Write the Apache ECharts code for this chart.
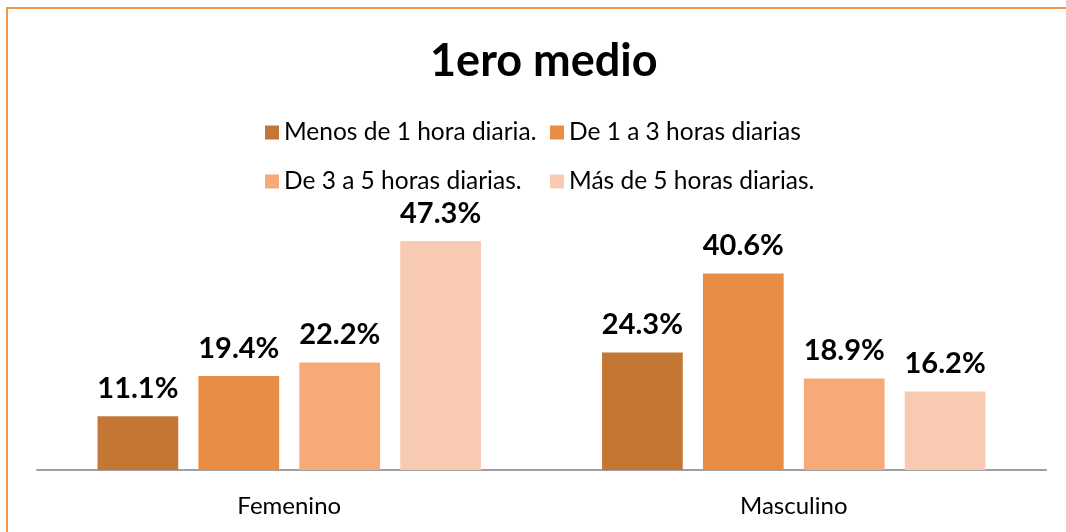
<!DOCTYPE html>
<html>
<head>
<meta charset="utf-8">
<script src="https://cdn.jsdelivr.net/npm/echarts@6/dist/echarts.min.js"></script>
<style>
html, body { margin: 0; padding: 0; background: #fff; }
#chart { width: 1066px; height: 532px; }
</style>
</head>
<body>
<div id="chart"></div>
<script>
// datos
var categorias = ['Femenino', 'Masculino'];
var nombres = ['Menos de 1 hora diaria.', 'De 1 a 3 horas diarias', 'De 3 a 5 horas diarias.', 'Más de 5 horas diarias.'];
var menos1 = [11.1, 24.3];
var de1a3 = [19.4, 40.6];
var de3a5 = [22.2, 18.9];
var mas5 = [47.3, 16.2];

var colores = ['#C47734', '#E88D43', '#F6AA78', '#F9CAB2'];
var fuente = 'Lato, "Open Sans", sans-serif';

function serie(nombre, datos, color){
	return {
		name: nombre,
		type: 'bar',
		data: datos,
		barGap: '25%',
		barCategoryGap: '24%',
		itemStyle: { color: color },
		label: {
			show: true,
			position: 'top',
			distance: 13,
			formatter: function(p){ return p.value.toFixed(1) + '%'; },
			color: '#000',
			fontFamily: fuente,
			fontWeight: 'bold',
			fontSize: 29
		}
	};
}

//leyendas en dos filas, alineadas en columnas
function leyenda(nombre, left, top){
	return {
		data: [nombre],
		left: left,
		top: top,
		icon: 'rect',
		itemWidth: 14,
		itemHeight: 14,
		selectedMode: false,
		textStyle: { fontFamily: fuente, fontSize: 24.5, color: '#000' }
	};
}

var opcion = {
	backgroundColor: '#fff',
	animation: false,
	title: {
		text: '1ero medio',
		left: 425,
		top: 34,
		textStyle: { fontFamily: fuente, fontSize: 45, fontWeight: 'bold', color: '#000' }
	},
	legend: [
		leyenda(nombres[0], 260, 115),
		leyenda(nombres[1], 545, 115),
		leyenda(nombres[2], 260, 164),
		leyenda(nombres[3], 545, 164)
	],
	graphic: [{
		type: 'rect',
		shape: { x: 7, y: 8, width: 2000, height: 2000 },
		style: { fill: 'none', stroke: '#F79646', lineWidth: 2 },
		silent: true
	}],
	grid: { left: 37, right: 20, top: 228, bottom: 62 },
	xAxis: {
		type: 'category',
		data: categorias,
		axisTick: { show: false },
		axisLine: { lineStyle: { color: '#A0A0A0', width: 2 } },
		axisLabel: { color: '#000', fontFamily: fuente, fontSize: 24, margin: 24 }
	},
	yAxis: {
		type: 'value',
		min: 0,
		max: 50,
		show: false,
		splitLine: { show: false }
	},
	series: [
		serie(nombres[0], menos1, colores[0]),
		serie(nombres[1], de1a3, colores[1]),
		serie(nombres[2], de3a5, colores[2]),
		serie(nombres[3], mas5, colores[3])
	]
};

var grafico = echarts.init(document.getElementById('chart'));
grafico.setOption(opcion);
</script>
</body>
</html>
